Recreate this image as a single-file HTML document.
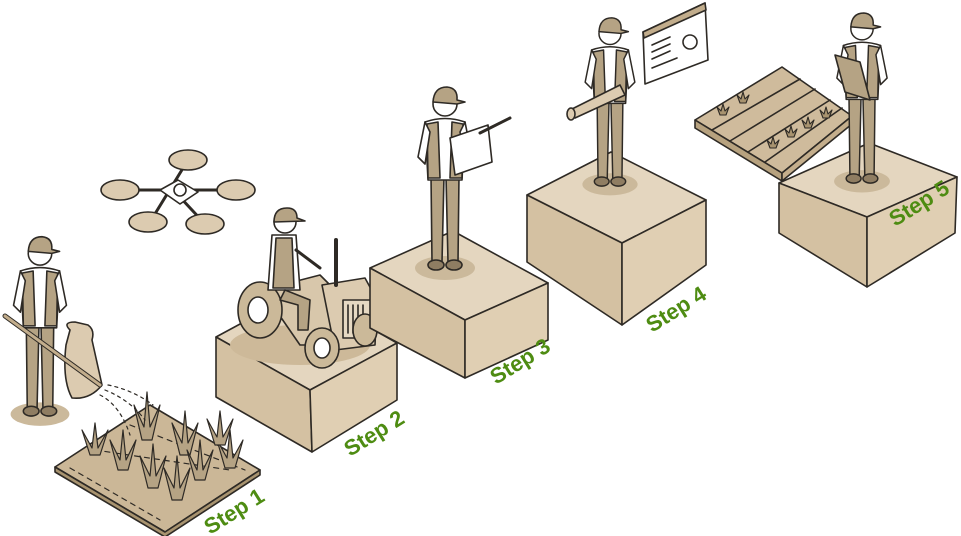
<!DOCTYPE html>
<html><head><meta charset="utf-8"><style>
html,body{margin:0;padding:0;background:#fff;width:961px;height:536px;overflow:hidden}
svg{display:block}
.lbl{font-family:"Liberation Sans",sans-serif;font-size:22px;font-weight:bold;fill:#4e8c12}
</style></head><body>
<svg width="961" height="536" viewBox="0 0 961 536" xmlns="http://www.w3.org/2000/svg" stroke="#2e2a25" stroke-width="1.6" stroke-linejoin="round" stroke-linecap="round">
<defs>
<g id="person">
  <ellipse cx="0" cy="-4" rx="30" ry="12" fill="#cbb99b" stroke="none"/>
  <path d="M-14,-96 L-1,-96 L-3,-10 L-13,-10 Z" fill="#b5a384"/>
  <path d="M1,-96 L14,-96 L13,-10 L3,-10 Z" fill="#b5a384"/>
  <ellipse cx="-9" cy="-7" rx="8" ry="5" fill="#8f7d62"/>
  <ellipse cx="9" cy="-7" rx="8" ry="5" fill="#8f7d62"/>
  <path d="M-20,-150 Q0,-157 20,-150 L17,-92 L-17,-92 Z" fill="#fff"/>
  <path d="M-18,-148 L-7,-150 L-5,-94 L-17,-94 Z" fill="#b5a384"/>
  <path d="M18,-148 L7,-150 L5,-94 L17,-94 Z" fill="#b5a384"/>
  <path d="M-20,-150 L-27,-115 L-20,-108 L-15,-140 Z" fill="#fff"/>
  <path d="M20,-150 L27,-115 L20,-108 L15,-140 Z" fill="#fff"/>
  <circle cx="0" cy="-168" r="12" fill="#fff"/>
  <path d="M-12,-170 Q-11,-185 2,-185 Q13,-184 12,-172 L20,-170 L12,-168 Z" fill="#b5a384"/>
</g>
</defs>

<!-- Step 1 soil -->
<path d="M55,467 L150,405 L260,470 L165,532 Z" fill="#cbb797"/>
<path d="M55,467 L55,472 L165,537 L260,475 L260,470 L165,532 Z" fill="#a8936f"/>
<path d="M70,468 L160,520 M95,450 L230,470 M130,425 L245,470" stroke-dasharray="5,5" fill="none" stroke-width="1.2"/>
<g fill="#b5a384" stroke-width="1.2">
  <path d="M90,455 l-8,-25 l10,18 l3,-25 l3,25 l10,-18 l-8,25 z"/>
  <path d="M118,470 l-8,-30 l10,20 l3,-30 l3,30 l10,-20 l-8,30 z"/>
  <path d="M148,488 l-8,-32 l10,20 l3,-32 l3,32 l10,-20 l-8,32 z"/>
  <path d="M172,500 l-8,-32 l10,20 l3,-32 l3,32 l10,-20 l-8,32 z"/>
  <path d="M142,440 l-8,-35 l10,22 l3,-35 l3,35 l10,-22 l-8,35 z"/>
  <path d="M180,455 l-8,-32 l10,20 l3,-32 l3,32 l10,-20 l-8,32 z"/>
  <path d="M195,480 l-8,-30 l10,20 l3,-30 l3,30 l10,-20 l-8,30 z"/>
  <path d="M225,468 l-8,-28 l10,18 l3,-28 l3,28 l10,-18 l-8,28 z"/>
  <path d="M215,445 l-8,-26 l10,18 l3,-26 l3,26 l10,-18 l-8,26 z"/>
</g>
<path d="M100,395 q20,10 30,40 M105,390 q25,10 40,30 M108,385 q25,5 45,20" stroke-dasharray="3,4" fill="none" stroke-width="1.2"/>

<!-- Farmer -->
<use href="#person" transform="translate(40,418) scale(0.98)"/>
<path d="M70,330 Q62,322 75,322 L88,325 Q95,330 92,340 L102,385 Q90,400 72,398 Q62,380 66,345 Z" fill="#dccbb0"/>
<line x1="5" y1="316" x2="100" y2="385" stroke-width="5"/>
<line x1="5" y1="316" x2="100" y2="385" stroke="#c2ad8c" stroke-width="3"/>

<!-- Drone -->
<g fill="#dccbb0">
  <path d="M125,190 L232,190 M150,222 L188,160 M205,224 L178,195" stroke-width="3" fill="none"/>
  <ellipse cx="120" cy="190" rx="19" ry="10"/><ellipse cx="148" cy="222" rx="19" ry="10"/>
  <ellipse cx="188" cy="160" rx="19" ry="10"/><ellipse cx="205" cy="224" rx="19" ry="10"/>
  <ellipse cx="236" cy="190" rx="19" ry="10"/>
  <path d="M160,190 L178,180 L198,192 L180,204 Z" fill="#fff"/>
  <circle cx="180" cy="190" r="6" fill="#fff"/>
</g>

<!-- Box 2 -->
<path d="M216,337 L303,290 L397,343 L310,390 Z" fill="#e4d6bf"/>
<path d="M216,337 L310,390 L312,452 L216,397 Z" fill="#d4c1a2"/>
<path d="M310,390 L397,343 L397,400 L312,452 Z" fill="#e0cfb3"/>
<!-- Tractor -->
<ellipse cx="300" cy="345" rx="70" ry="20" fill="#cdb999" stroke="none"/>
<path d="M262,290 L320,275 L345,300 L345,345 L300,345 Z" fill="#d8c7ab"/>
<path d="M322,285 L365,278 L377,300 L375,345 L335,350 Z" fill="#dccbb0"/>
<rect x="343" y="300" width="28" height="38" fill="#e6d9c3"/>
<path d="M348,305 v28 M353,305 v28 M358,305 v28 M363,305 v28"/>
<line x1="336" y1="240" x2="336" y2="285" stroke-width="4"/>
<ellipse cx="260" cy="310" rx="22" ry="28" fill="#cbb999"/>
<ellipse cx="258" cy="310" rx="10" ry="13" fill="#fff"/>
<ellipse cx="322" cy="348" rx="17" ry="20" fill="#cbb999"/>
<ellipse cx="322" cy="348" rx="8" ry="10" fill="#fff"/>
<ellipse cx="365" cy="330" rx="12" ry="16" fill="#cbb999"/>
<path d="M272,235 L296,235 L300,290 L268,290 Z" fill="#fff"/>
<path d="M276,238 L292,238 L294,288 L273,288 Z" fill="#b5a384"/>
<path d="M285,290 L310,300 L308,330 L298,330 L298,305 L280,300 Z" fill="#b5a384"/>
<circle cx="285" cy="222" r="11" fill="#fff"/>
<path d="M274,222 Q274,208 287,208 Q297,208 297,218 L305,221 Z" fill="#b5a384"/>
<path d="M296,250 L320,268" stroke-width="3"/>

<!-- Box 3 -->
<path d="M370,268 L453,231 L548,283 L465,320 Z" fill="#e4d6bf"/>
<path d="M370,268 L465,320 L465,378 L370,328 Z" fill="#d4c1a2"/>
<path d="M465,320 L548,283 L548,340 L465,378 Z" fill="#e0cfb3"/>
<use href="#person" transform="translate(445,272)"/>
<path d="M450,138 L488,125 L492,162 L455,175 Z" fill="#fff"/>
<path d="M480,133 L510,118" stroke-width="3"/>

<!-- Box 4 -->
<path d="M527,195 L611,152 L706,200 L622,243 Z" fill="#e4d6bf"/>
<path d="M527,195 L622,243 L622,325 L527,262 Z" fill="#d4c1a2"/>
<path d="M622,243 L706,200 L706,265 L622,325 Z" fill="#e0cfb3"/>
<use href="#person" transform="translate(610,188) scale(0.92)"/>
<path d="M570,110 L620,85 L625,95 L575,118 Z" fill="#dccbb0"/>
<ellipse cx="571" cy="114" rx="4" ry="6" fill="#dccbb0"/>
<path d="M643,32 L705,3 L708,60 L645,84 Z" fill="#fff"/>
<path d="M643,32 L705,3 L706,10 L644,38 Z" fill="#c2ad8c"/>
<path d="M652,45 l18,-8 M652,52 l18,-8 M652,59 l18,-8 M652,68 l25,-10"/>
<circle cx="690" cy="42" r="7" fill="none"/>

<!-- Tray -->
<path d="M695,120 L782,67 L852,116 L782,173 Z" fill="#cfbb9c"/>
<path d="M695,120 L782,173 L782,181 L695,128 Z" fill="#b7a27f"/>
<path d="M782,173 L852,116 L852,124 L782,181 Z" fill="#c4ae8c"/>
<path d="M712,130 L800,79 M730,141 L815,89 M748,152 L830,100 M765,162 L842,108" fill="none"/>
<g fill="#a8936f" stroke-width="1.1">
  <path d="M720,115 l-3,-8 l4,4 l2,-7 l2,7 l4,-4 l-3,8z"/>
  <path d="M740,103 l-3,-8 l4,4 l2,-7 l2,7 l4,-4 l-3,8z"/>
  <path d="M770,148 l-3,-8 l4,4 l2,-7 l2,7 l4,-4 l-3,8z"/>
  <path d="M788,137 l-3,-8 l4,4 l2,-7 l2,7 l4,-4 l-3,8z"/>
  <path d="M805,128 l-3,-8 l4,4 l2,-7 l2,7 l4,-4 l-3,8z"/>
  <path d="M823,118 l-3,-8 l4,4 l2,-7 l2,7 l4,-4 l-3,8z"/>
</g>

<!-- Box 5 -->
<path d="M779,183 L869,143 L957,177 L867,217 Z" fill="#e4d6bf"/>
<path d="M779,183 L867,217 L867,287 L779,233 Z" fill="#d4c1a2"/>
<path d="M867,217 L957,177 L955,233 L867,287 Z" fill="#e0cfb3"/>
<use href="#person" transform="translate(862,185) scale(0.93)"/>
<path d="M835,55 L860,62 L870,100 L845,92 Z" fill="#b5a384"/>

<!-- Labels -->
<text class="lbl" stroke="none" transform="translate(210,535) rotate(-32)">Step 1</text>
<text class="lbl" stroke="none" transform="translate(350,457) rotate(-32)">Step 2</text>
<text class="lbl" stroke="none" transform="translate(496,385) rotate(-32)">Step 3</text>
<text class="lbl" stroke="none" transform="translate(652,333) rotate(-32)">Step 4</text>
<text class="lbl" stroke="none" transform="translate(895,227) rotate(-32)">Step 5</text>
</svg>
</body></html>
